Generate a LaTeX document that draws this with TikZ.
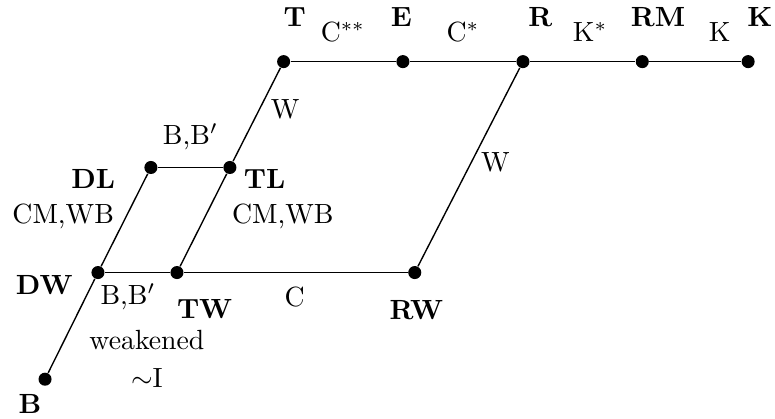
\documentclass[tikz,border=0pt]{standalone}
\usepackage{amsmath}
\usepackage{tikz}

\begin{document}
\begin{tikzpicture}[
        dot/.style={circle, fill=black, inner sep=0pt, minimum size=4.7pt},
        sysname/.style={font=\bfseries},
        link/.style={line width=0.5pt}
        ]
        \useasboundingbox (0,0) rectangle (9.81,5.30);

        % systems
        \node[dot] (T) at (3.59,4.52) {};
        \node[dot] (E) at (5.10,4.52) {};
        \node[dot] (R) at (6.62,4.52) {};
        \node[dot] (RM) at (8.13,4.52) {};
        \node[dot] (K) at (9.47,4.52) {};
        \node[dot] (DL) at (1.91,3.18) {};
        \node[dot] (TL) at (2.91,3.18) {};
        \node[dot] (DW) at (1.24,1.85) {};
        \node[dot] (TW) at (2.24,1.85) {};
        \node[dot] (RW) at (5.25,1.85) {};
        \node[dot] (B) at (0.57,0.50) {};

        \node[sysname] (Tname) at (3.73,5.08) {T};
        \node[sysname] (Ename) at (5.08,5.08) {E};
        \node[sysname] (Rname) at (6.84,5.08) {R};
        \node[sysname] (RMname) at (8.33,5.08) {RM};
        \node[sysname] (Kname) at (9.62,5.08) {K};
        \node[sysname] (DLname) at (1.18,3.03) {DL};
        \node[sysname] (TLname) at (3.35,3.03) {TL};
        \node[sysname] (DWname) at (0.56,1.69) {DW};
        \node[sysname] (TWname) at (2.59,1.39) {TW};
        \node[sysname] (RWname) at (5.27,1.37) {RW};
        \node[sysname] (Bname) at (0.38,0.19) {B};

        % axioms
        \node (Css) at (4.34,4.90) {C$^{**}$};
        \node (Cs) at (5.86,4.90) {C$^{*}$};
        \node (Ks) at (7.47,4.89) {K$^{*}$};
        \node (Kax) at (9.11,4.89) {K};
        \node (Wup) at (3.61,3.91) {W};
        \node (BBup) at (2.41,3.57) {B,B$'$};
        \node (Wright) at (6.27,3.25) {W};
        \node (CMleft) at (0.80,2.56) {CM,WB};
        \node (CMright) at (3.58,2.56) {CM,WB};
        \node (BBlow) at (1.62,1.54) {B,B$'$};
        \node (Cax) at (3.73,1.54) {C};
        \node (weak) at (1.86,1.00) {weakened};
        \node (notI) at (1.86,0.52) {$\sim$I};

        \draw[link] (T) -- (E) -- (R) -- (RM) -- (K);
        \draw[link] (T) -- (TL) -- (TW);
        \draw[link] (R) -- (RW);
        \draw[link] (DL) -- (TL);
        \draw[link] (DL) -- (DW) -- (B);
        \draw[link] (DW) -- (TW) -- (RW);
    \end{tikzpicture}
\end{document}
